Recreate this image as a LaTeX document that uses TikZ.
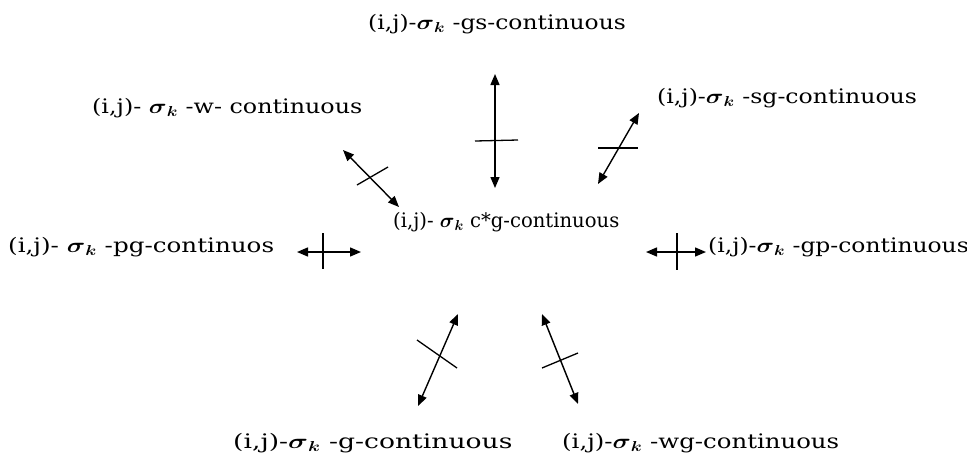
\documentclass[tikz,border=0pt]{standalone}
\usepackage{amsmath}
\usepackage{graphicx}
\usepackage{fontspec}
\setmainfont{DejaVu Serif}
\usetikzlibrary{arrows.meta}
\newcommand\sigk{$\boldsymbol{\sigma}_{\boldsymbol{k}}$}
\newcommand\lb[2]{\scalebox{#1}[1]{#2}}
\begin{document}
\begin{tikzpicture}[x=1pt,y=-1pt,
  lbl/.style={inner sep=0pt,anchor=west,font=\fontsize{20}{22}\selectfont},
  rel/.style={line width=1.4pt,{Triangle[length=11pt,width=9pt]}-{Triangle[length=11pt,width=9pt]}},
  bar/.style={line width=1.3pt}]
\useasboundingbox (0,0) rectangle (967,459);
% labels
\node[lbl] (gs) at (368,24) {\lb{1.17}{(i,j)-\sigk\ -gs-continuous}};
\node[lbl] (w) at (92,108) {\lb{1.19}{(i,j)- \sigk\ -w- continuous}};
\node[lbl] (sg) at (657,98) {\lb{1.18}{(i,j)-\sigk\ -sg-continuous}};
\node[lbl] (c) at (393,222) {\lb{0.98}{(i,j)- \sigk\ c*g-continuous}};
\node[lbl] (pg) at (8,247) {\lb{1.23}{(i,j)- \sigk\ -pg-continuos}};
\node[lbl] (gp) at (708,247) {\lb{1.17}{(i,j)-\sigk\ -gp-continuous}};
\node[lbl] (g) at (233,443) {\lb{1.33}{(i,j)-\sigk\ -g-continuous}};
\node[lbl] (wg) at (562,443) {\lb{1.22}{(i,j)-\sigk\ -wg-continuous}};
% arrow end points
\coordinate (a1) at (495,74);  \coordinate (b1) at (495,188);
\coordinate (a2) at (639,113); \coordinate (b2) at (598,184);
\coordinate (a3) at (343,150); \coordinate (b3) at (399,207);
\coordinate (a4) at (297,252); \coordinate (b4) at (361,252);
\coordinate (a5) at (646,252); \coordinate (b5) at (706,252);
\coordinate (a6) at (458,314); \coordinate (b6) at (418,406);
\coordinate (a7) at (542,314); \coordinate (b7) at (578,404);
\draw[rel] (a1) -- (b1);
\draw[rel] (a2) -- (b2);
\draw[rel] (a3) -- (b3);
\draw[rel] (a4) -- (b4);
\draw[rel] (a5) -- (b5);
\draw[rel] (a6) -- (b6);
\draw[rel] (a7) -- (b7);
% crossing bars
\coordinate (p1) at (475,141); \coordinate (q1) at (518,140);
\coordinate (p2) at (598,148); \coordinate (q2) at (638,148);
\coordinate (p3) at (357,185); \coordinate (q3) at (388,167);
\coordinate (p4) at (323,233); \coordinate (q4) at (323,269);
\coordinate (p5) at (677,233); \coordinate (q5) at (677,270);
\coordinate (p6) at (417,340); \coordinate (q6) at (457,368);
\coordinate (p7) at (542,368); \coordinate (q7) at (578,353);
\foreach \i in {1,...,7} {\draw[bar] (p\i) -- (q\i);}
\end{tikzpicture}
\end{document}
